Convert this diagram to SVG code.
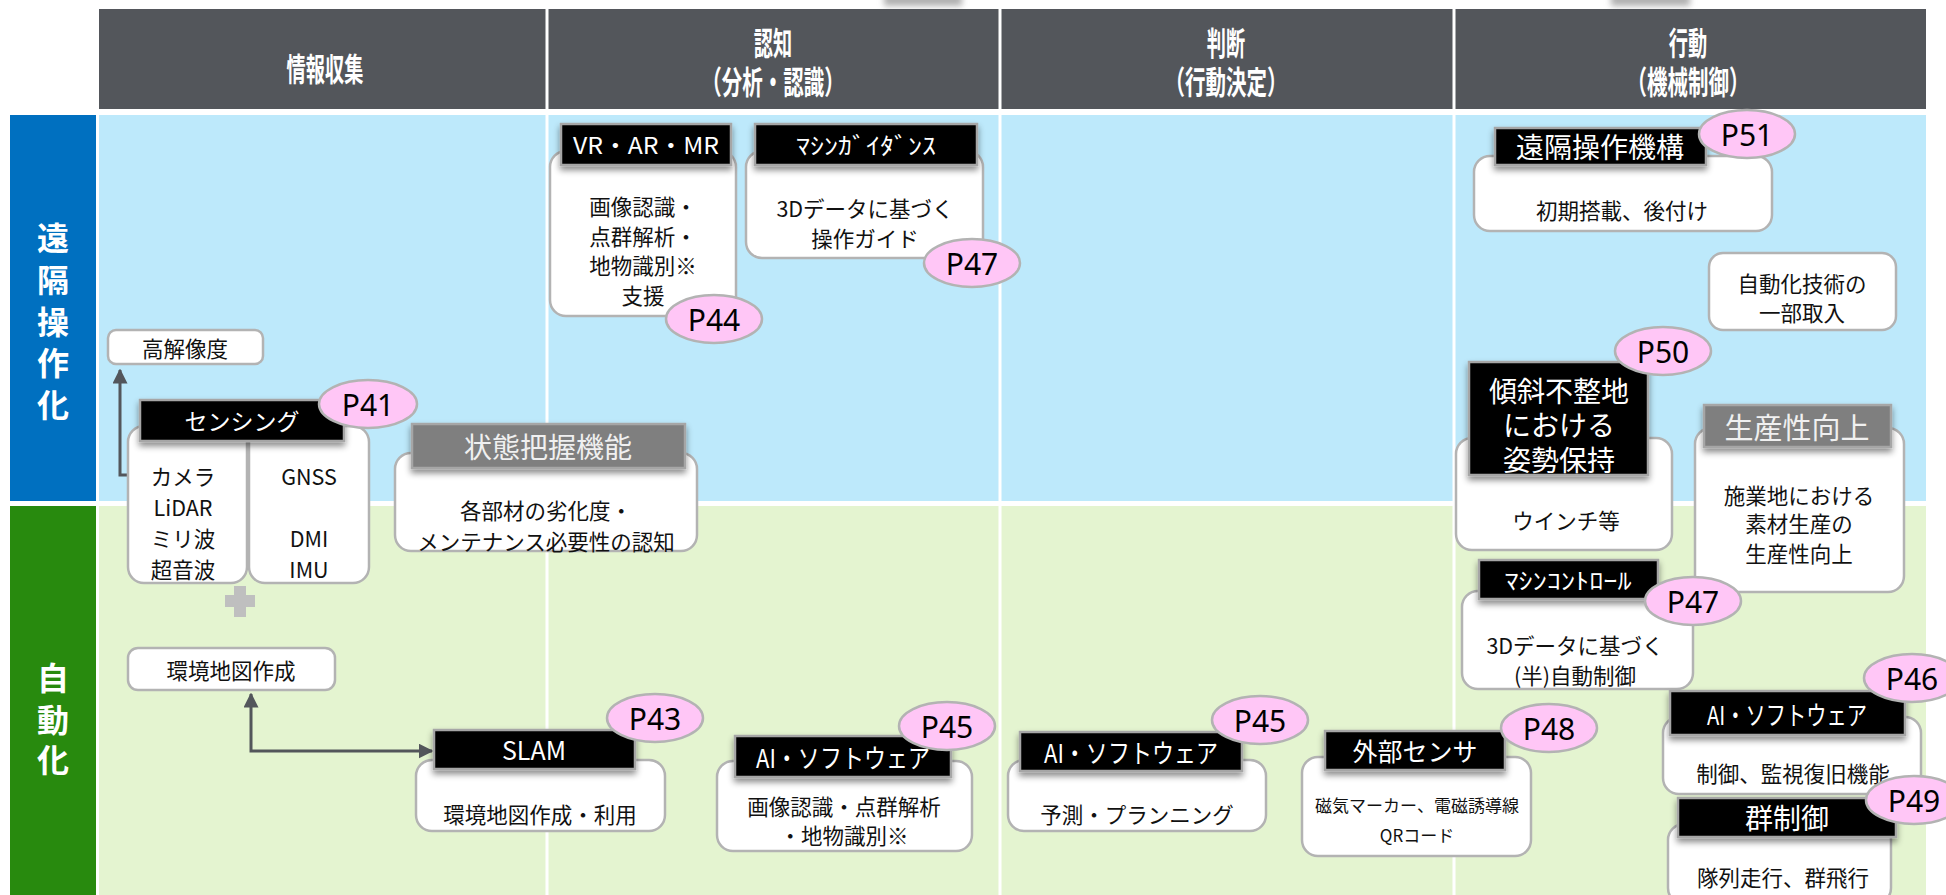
<svg xmlns="http://www.w3.org/2000/svg" width="1946" height="895" viewBox="0 0 1946 895">
<style>
text{font-family:"Noto Sans CJK JP","Noto Sans",sans-serif;text-anchor:middle;dominant-baseline:central}
.body{fill:#fff;stroke:#b3b3b3;stroke-width:2.5}
.lbl{fill:#000;stroke:#a6a6a6;stroke-width:2.5;filter:url(#sh)}
.glbl{fill:#7f7f7f;stroke:#a6a6a6;stroke-width:2.5;filter:url(#sh)}
.pg{fill:#ffc6f6;stroke:#b3b3b3;stroke-width:2.5}
.t{font-size:21.5px;fill:#111}
.lt{font-size:23px;fill:#fff}
.gt{font-size:28px;fill:#f0f0f0}
.pt{font-size:30px;fill:#000;font-family:"Noto Sans",sans-serif}
.ht{fill:#fff;font-weight:bold;font-size:32px}
.st{fill:#fff;font-weight:bold;font-size:32px}
.div{stroke:#fff;stroke-width:3}
.conn{fill:none;stroke:#53565b;stroke-width:3}
</style>
<defs>
<filter id="sh" x="-10%" y="-20%" width="120%" height="160%">
<feDropShadow dx="0" dy="4" stdDeviation="3" flood-color="#000" flood-opacity="0.45"/>
</filter>
<filter id="blur" x="-20%" y="-50%" width="140%" height="200%">
<feGaussianBlur stdDeviation="3"/>
</filter>
<marker id="ah" viewBox="0 0 10 10" refX="9" refY="5" markerWidth="5" markerHeight="5" orient="auto-start-reverse" markerUnits="strokeWidth">
<path d="M0,0 L10,5 L0,10 z" fill="#53565b"/>
</marker>
</defs>

<rect width="1946" height="895" fill="#fff"/>

<g id="background">
<rect x="884" y="-18" width="78" height="24" fill="#b0b0b0" filter="url(#blur)"/>
<rect x="1611" y="-18" width="79" height="24" fill="#b0b0b0" filter="url(#blur)"/>
<rect x="99" y="9" width="1827" height="100" fill="#53565b"/>
<rect x="99" y="115" width="1827" height="386" fill="#bde9fb"/>
<rect x="99" y="506" width="1827" height="389" fill="#e4f4d0"/>
<rect x="10" y="115" width="86" height="386" fill="#0070c0"/>
<rect x="10" y="506" width="86" height="389" fill="#288a0e"/>
<line class="div" x1="547" y1="9" x2="547" y2="895"/>
<line class="div" x1="1000" y1="9" x2="1000" y2="895"/>
<line class="div" x1="1454" y1="9" x2="1454" y2="895"/>
</g>

<g id="headers">
<text class="ht" transform="translate(325,67) scale(0.6,1)">情報収集</text>
<text class="ht" transform="translate(773,41) scale(0.6,1)">認知</text>
<text class="ht" transform="translate(773,80) scale(0.64,1)">（分析・認識）</text>
<text class="ht" transform="translate(1226,41) scale(0.6,1)">判断</text>
<text class="ht" transform="translate(1226,80) scale(0.64,1)">（行動決定）</text>
<text class="ht" transform="translate(1688,41) scale(0.6,1)">行動</text>
<text class="ht" transform="translate(1688,80) scale(0.64,1)">（機械制御）</text>
</g>

<g id="rows">
<text class="st" x="53" y="236">遠</text>
<text class="st" x="53" y="278">隔</text>
<text class="st" x="53" y="320">操</text>
<text class="st" x="53" y="361">作</text>
<text class="st" x="53" y="403">化</text>
<text class="st" x="53" y="676">自</text>
<text class="st" x="53" y="718">動</text>
<text class="st" x="53" y="758">化</text>
</g>

<g id="connectors">
<path class="conn" d="M157,475 H120 V370" marker-end="url(#ah)"/>
<path class="conn" d="M251,694 V751 H432" marker-start="url(#ah)" marker-end="url(#ah)"/>
</g>

<g id="n-koukaizoudo">
<rect class="body" x="108" y="330" width="155" height="34" rx="8"/>
<text class="t" x="185" y="347">高解像度</text>
</g>

<g id="n-sensing">
<rect class="body" x="128" y="426" width="119" height="157" rx="16"/>
<rect class="body" x="249" y="426" width="120" height="157" rx="16"/>
<rect class="lbl" x="140" y="400" width="204" height="41"/>
<text class="lt" x="242" y="420">センシング</text>
<ellipse class="pg" cx="368" cy="404" rx="49" ry="24"/>
<text class="pt" x="368" y="404">P41</text>
<text class="t" x="183" y="475">カメラ</text>
<text class="t" x="183" y="506">LiDAR</text>
<text class="t" x="183" y="537">ミリ波</text>
<text class="t" x="183" y="568">超音波</text>
<text class="t" x="309" y="475">GNSS</text>
<text class="t" x="309" y="537">DMI</text>
<text class="t" x="309" y="568">IMU</text>
</g>

<g id="n-plus">
<rect x="225" y="595" width="30" height="12" fill="#bfbfbf"/>
<rect x="234" y="586" width="12" height="31" fill="#bfbfbf"/>
</g>

<g id="n-kankyouchizu">
<rect class="body" x="128" y="648" width="207" height="42" rx="10"/>
<text class="t" x="231" y="669">環境地図作成</text>
</g>

<g id="n-joutai">
<rect class="body" x="395" y="453" width="302" height="98" rx="16"/>
<rect class="glbl" x="412" y="424" width="273" height="44"/>
<text class="gt" x="548" y="446">状態把握機能</text>
<text class="t" x="546" y="509">各部材の劣化度・</text>
<text class="t" x="546" y="540">メンテナンス必要性の認知</text>
</g>

<g id="n-vrarmr">
<rect class="body" x="550" y="151" width="186" height="165" rx="16"/>
<rect class="lbl" x="561" y="124" width="170" height="41"/>
<text class="lt" x="646" y="144" textLength="146" lengthAdjust="spacingAndGlyphs">VR・AR・MR</text>
<text class="t" x="643" y="205">画像認識・</text>
<text class="t" x="643" y="235">点群解析・</text>
<text class="t" x="643" y="264">地物識別※</text>
<text class="t" x="643" y="294">支援</text>
<ellipse class="pg" cx="714" cy="319" rx="48" ry="24"/>
<text class="pt" x="714" y="319">P44</text>
</g>

<g id="n-guidance">
<rect class="body" x="746" y="151" width="237" height="107" rx="16"/>
<rect class="lbl" x="755" y="124" width="222" height="41"/>
<text class="lt" x="866" y="144" font-size="22" textLength="140" lengthAdjust="spacingAndGlyphs">ﾏｼﾝｶﾞｲﾀﾞﾝｽ</text>
<text class="t" x="865" y="207">3Dデータに基づく</text>
<text class="t" x="865" y="237">操作ガイド</text>
<ellipse class="pg" cx="972" cy="263" rx="48" ry="24"/>
<text class="pt" x="972" y="263">P47</text>
</g>

<g id="n-enkakukikou">
<rect class="body" x="1474" y="156" width="298" height="75" rx="16"/>
<rect class="lbl" x="1495" y="128" width="211" height="37"/>
<text class="lt" x="1600" y="146" style="font-size:28px">遠隔操作機構</text>
<ellipse class="pg" cx="1747" cy="134" rx="48" ry="24"/>
<text class="pt" x="1747" y="134">P51</text>
<text class="t" x="1622" y="209">初期搭載、後付け</text>
</g>

<g id="n-jidouka">
<rect class="body" x="1709" y="253" width="187" height="77" rx="14"/>
<text class="t" x="1802" y="282">自動化技術の</text>
<text class="t" x="1802" y="311">一部取入</text>
</g>

<g id="n-keisha">
<rect class="body" x="1456" y="438" width="216" height="112" rx="16"/>
<rect class="lbl" x="1469" y="362" width="179" height="113"/>
<text class="lt" x="1559" y="390" style="font-size:28px">傾斜不整地</text>
<text class="lt" x="1559" y="424" style="font-size:28px">における</text>
<text class="lt" x="1559" y="459" style="font-size:28px">姿勢保持</text>
<ellipse class="pg" cx="1663" cy="351" rx="48" ry="24"/>
<text class="pt" x="1663" y="351">P50</text>
<text class="t" x="1566" y="519">ウインチ等</text>
</g>

<g id="n-seisansei">
<rect class="body" x="1695" y="428" width="209" height="164" rx="16"/>
<rect class="glbl" x="1704" y="405" width="187" height="42"/>
<text class="gt" x="1797" y="426" style="font-size:29px">生産性向上</text>
<text class="t" x="1799" y="494">施業地における</text>
<text class="t" x="1799" y="522">素材生産の</text>
<text class="t" x="1799" y="552">生産性向上</text>
</g>

<g id="n-control">
<rect class="body" x="1462" y="591" width="231" height="98" rx="16"/>
<rect class="lbl" x="1479" y="560" width="179" height="39"/>
<text class="lt" x="1568" y="579" font-size="22" textLength="127" lengthAdjust="spacingAndGlyphs">ﾏｼﾝｺﾝﾄﾛｰﾙ</text>
<ellipse class="pg" cx="1693" cy="601" rx="48" ry="24"/>
<text class="pt" x="1693" y="601">P47</text>
<text class="t" x="1575" y="644">3Dデータに基づく</text>
<text class="t" x="1575" y="674">(半)自動制御</text>
</g>

<g id="n-ai-action">
<rect class="body" x="1663" y="717" width="258" height="77" rx="16"/>
<rect class="lbl" x="1670" y="691" width="235" height="44"/>
<text class="lt" x="1787" y="713" style="font-size:26px" textLength="160" lengthAdjust="spacingAndGlyphs">AI・ソフトウェア</text>
<ellipse class="pg" cx="1912" cy="678" rx="48" ry="24"/>
<text class="pt" x="1912" y="678">P46</text>
<text class="t" x="1793" y="772">制御、監視復旧機能</text>
</g>

<g id="n-gun">
<rect class="body" x="1668" y="824" width="223" height="80" rx="16"/>
<rect class="lbl" x="1678" y="798" width="218" height="39"/>
<text class="lt" x="1787" y="817" style="font-size:28px">群制御</text>
<ellipse class="pg" cx="1914" cy="800" rx="48" ry="24"/>
<text class="pt" x="1914" y="800">P49</text>
<text class="t" x="1783" y="876">隊列走行、群飛行</text>
</g>

<g id="n-gaibu">
<rect class="body" x="1302" y="757" width="229" height="99" rx="16"/>
<rect class="lbl" x="1325" y="731" width="180" height="39"/>
<text class="lt" x="1415" y="750" style="font-size:25px">外部センサ</text>
<ellipse class="pg" cx="1549" cy="728" rx="48" ry="24"/>
<text class="pt" x="1549" y="728">P48</text>
<text class="t" x="1417" y="804" style="font-size:17px">磁気マーカー、電磁誘導線</text>
<text class="t" x="1417" y="834" style="font-size:17px">QRコード</text>
</g>

<g id="n-ai-judge">
<rect class="body" x="1008" y="760" width="258" height="71" rx="16"/>
<rect class="lbl" x="1020" y="732" width="222" height="39"/>
<text class="lt" x="1131" y="751" style="font-size:26px" textLength="174" lengthAdjust="spacingAndGlyphs">AI・ソフトウェア</text>
<ellipse class="pg" cx="1260" cy="720" rx="48" ry="24"/>
<text class="pt" x="1260" y="720">P45</text>
<text class="t" x="1137" y="813">予測・プランニング</text>
</g>

<g id="n-ai-recog">
<rect class="body" x="717" y="761" width="255" height="90" rx="16"/>
<rect class="lbl" x="735" y="736" width="216" height="41"/>
<text class="lt" x="843" y="756" style="font-size:26px" textLength="174" lengthAdjust="spacingAndGlyphs">AI・ソフトウェア</text>
<ellipse class="pg" cx="947" cy="726" rx="48" ry="24"/>
<text class="pt" x="947" y="726">P45</text>
<text class="t" x="844" y="805">画像認識・点群解析</text>
<text class="t" x="844" y="834">・地物識別※</text>
</g>

<g id="n-slam">
<rect class="body" x="416" y="760" width="249" height="71" rx="16"/>
<rect class="lbl" x="434" y="730" width="201" height="39"/>
<text class="lt" x="534" y="749" style="font-size:25px">SLAM</text>
<ellipse class="pg" cx="655" cy="718" rx="48" ry="24"/>
<text class="pt" x="655" y="718">P43</text>
<text class="t" x="540" y="813">環境地図作成・利用</text>
</g>
</svg>
